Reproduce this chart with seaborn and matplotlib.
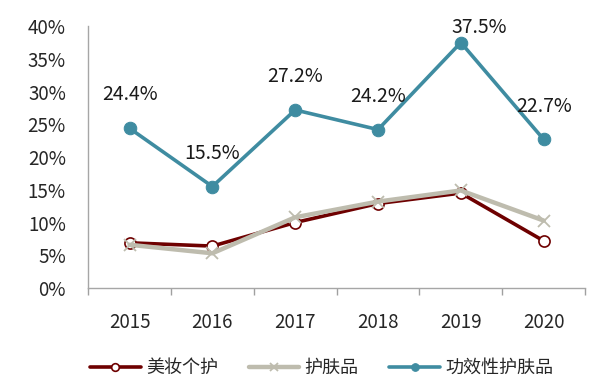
import matplotlib.pyplot as plt
import seaborn as sns
import pandas as pd
from matplotlib.ticker import FixedLocator, PercentFormatter

years = ['2015', '2016', '2017', '2018', '2019', '2020']
beauty = [6.9, 6.4, 10.0, 12.9, 14.5, 7.2]
skincare = [6.6, 5.3, 10.8, 13.2, 14.9, 10.3]
functional = [24.4, 15.5, 27.2, 24.2, 37.5, 22.7]

sns.set_style('white')
plt.rcParams['font.family'] = ['Noto Sans CJK SC', 'DejaVu Sans']

fig = plt.figure(figsize=(6.12, 3.85), dpi=100)
ax = fig.add_axes([0.144, 0.252, 0.812, 0.68])

x = list(range(len(years)))
sns.lineplot(x=x, y=beauty, ax=ax, color='#6E0000', linewidth=2.6, marker='o',
             markersize=8, markerfacecolor='white', markeredgecolor='#6E0000',
             markeredgewidth=1.2, label='美妆个护')
sns.lineplot(x=x, y=skincare, ax=ax, color='#BEBCAE', linewidth=3.2, marker='x',
             markersize=9, markeredgecolor='#BEBCAE', markeredgewidth=1.3, label='护肤品')
sns.lineplot(x=x, y=functional, ax=ax, color='#3F8CA1', linewidth=2.6, marker='o',
             markersize=9, markeredgecolor='#3F8CA1', label='功效性护肤品')

for i, v in enumerate(functional):
    if v == max(functional):
        off = (13, 11)
    else:
        off = (0, 24)
    ax.annotate(f'{v:.1f}%', (i, v), xytext=off, textcoords='offset points',
                ha='center', va='center', fontsize=14, color='#1a1a1a')

ax.set_xlim(-0.5, 5.5)
ax.set_ylim(0, 40)
ax.yaxis.set_major_locator(FixedLocator([0, 5, 10, 15, 20, 25, 30, 35, 40]))
ax.yaxis.set_major_formatter(PercentFormatter(decimals=0))
ax.set_xticks(x)
ax.set_xticklabels(years)
ax.xaxis.set_minor_locator(FixedLocator([i - 0.5 for i in range(len(years) + 1)]))
ax.tick_params(axis='x', which='major', length=0, pad=17, labelsize=13.5)
ax.tick_params(axis='x', which='minor', length=5, color='#A0A0A0', width=1, direction='out', bottom=True)
ax.tick_params(axis='y', length=0, pad=16, labelsize=13.5)
for lab in ax.get_yticklabels():
    lab.set_horizontalalignment('right')

for s in ['top', 'right']:
    ax.spines[s].set_visible(False)
for s in ['left', 'bottom']:
    ax.spines[s].set_color('#A6A6A6')
    ax.spines[s].set_linewidth(1)

leg = ax.legend(loc='upper center', bbox_to_anchor=(0.47, -0.21), ncol=3, frameon=False,
                fontsize=13, handlelength=2.8, columnspacing=1.7, handletextpad=0.3)
for h in leg.legend_handles:
    h.set_markersize(5.5)

fig.savefig('out.png', dpi=100)
